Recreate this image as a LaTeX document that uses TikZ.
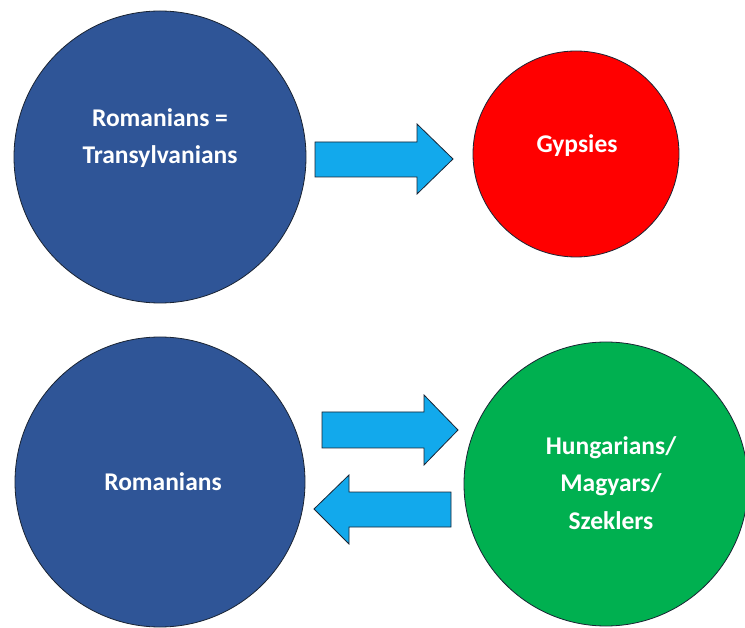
\documentclass[tikz,border=0pt]{standalone}
\usepackage{fontspec}
\setmainfont{Carlito}
\definecolor{romblue}{HTML}{2F5597}
\definecolor{gypred}{HTML}{FF0000}
\definecolor{hungreen}{HTML}{00B050}
\definecolor{arrowblue}{HTML}{12A9EC}
\definecolor{edge}{HTML}{1A2433}
\begin{document}
\begin{tikzpicture}[x=1pt,y=-1pt,
  blob/.style={circle,draw=edge,line width=0.8pt,inner sep=0pt},
  label/.style={text=white,font=\bfseries\fontsize{25.5}{37.5}\selectfont,align=center,inner sep=0pt},
  blockarrow/.style={fill=arrowblue,draw=edge,line width=0.8pt,line join=miter}]
  \useasboundingbox (0,0) rectangle (745,628);
  \fill[white] (0,0) rectangle (745,628);

  % circles
  \node[blob,fill=romblue,minimum size=292pt] (rt) at (160,157) {};
  \node[blob,fill=gypred,minimum size=206pt] (gy) at (576,154) {};
  \node[blob,fill=romblue,minimum size=290pt] (rb) at (160,482) {};
  \node[blob,fill=hungreen,minimum size=284pt] (hu) at (606,484) {};

  % labels
  \node[label] (trt) at (160,138) {Romanians =\\Transylvanians};
  \node[label] (tgy) at (577,146) {Gypsies};
  \node[label] (trb) at (163,482) {Romanians};
  \node[label] (thu) at (611,483) {Hungarians/\\Magyars/\\Szeklers};

  % block arrows
  \draw[blockarrow] (315,142) -- (417,142) -- (417,124) -- (453,159)
    -- (417,194) -- (417,177) -- (315,177) -- cycle;
  \draw[blockarrow] (322,412) -- (424,412) -- (424,395) -- (458,430)
    -- (424,465) -- (424,448) -- (322,448) -- cycle;
  \draw[blockarrow] (451,492) -- (349,492) -- (349,475) -- (314,509)
    -- (349,544) -- (349,527) -- (451,527) -- cycle;
\end{tikzpicture}
\end{document}
